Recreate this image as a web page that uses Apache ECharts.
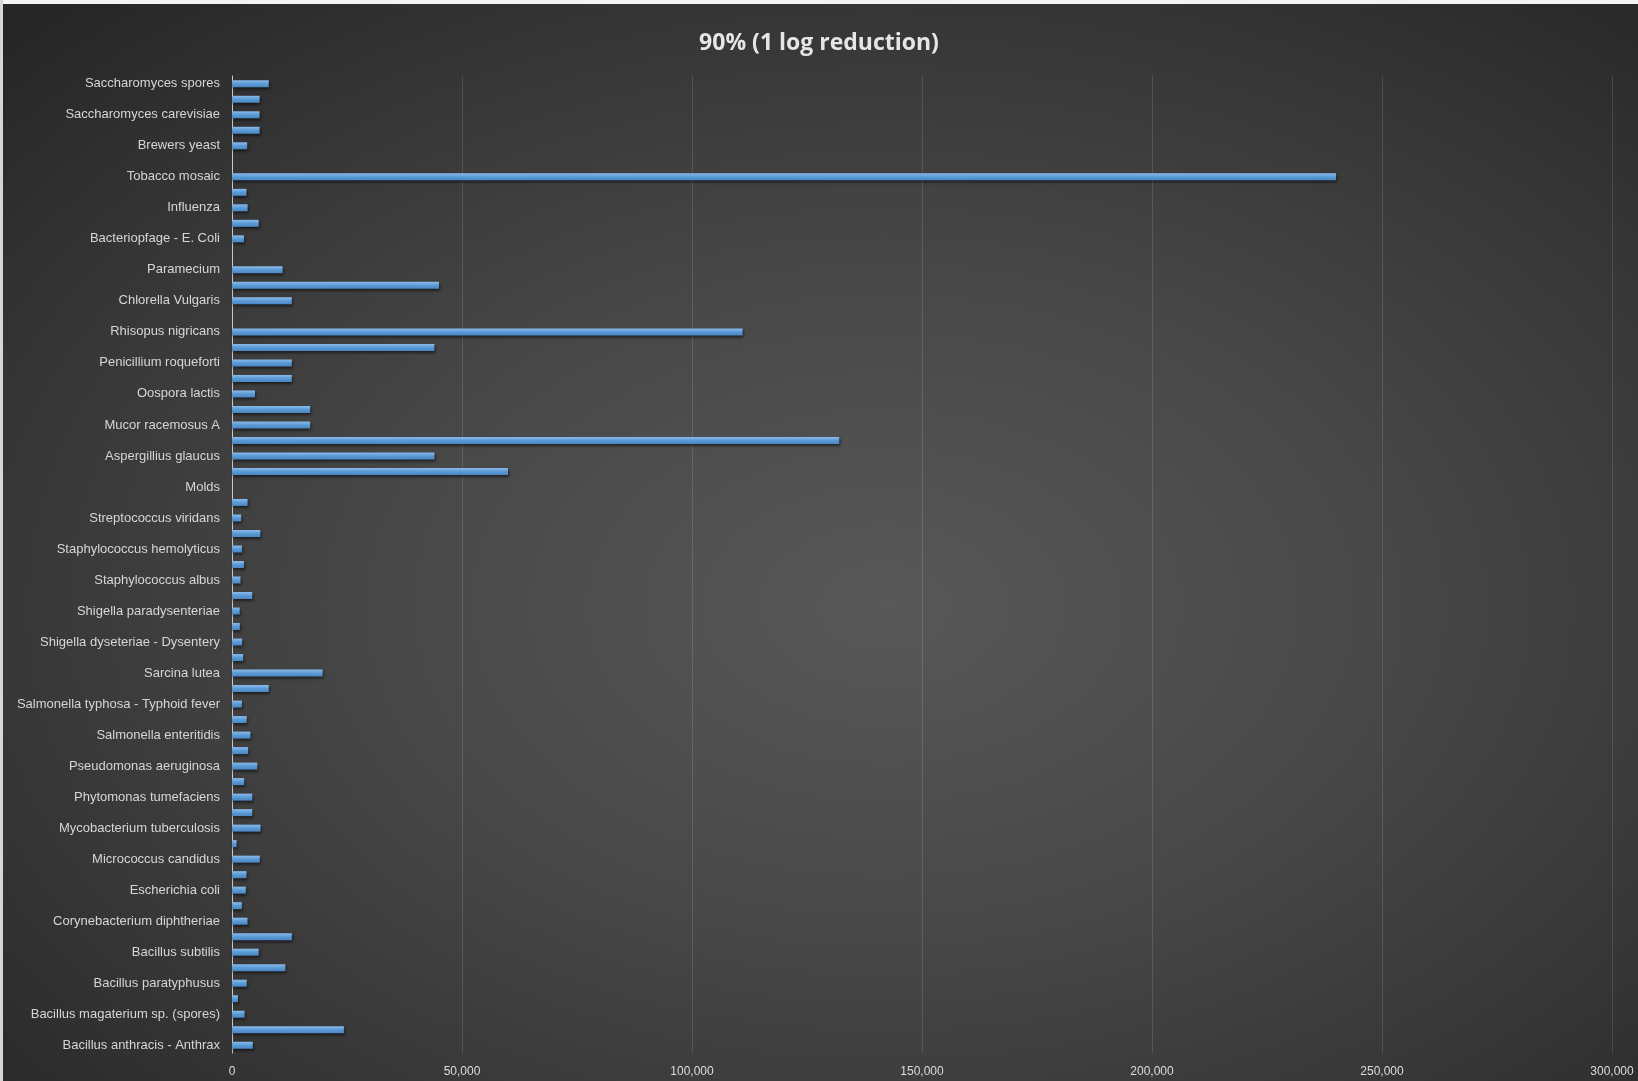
<!DOCTYPE html>
<html>
<head>
<meta charset="utf-8">
<script src="https://cdn.jsdelivr.net/npm/echarts@6/dist/echarts.min.js"></script>
<style>
html, body { margin: 0; padding: 0; width: 1638px; height: 1081px; overflow: hidden; }
body { background: radial-gradient(ellipse 75% 75% at 54% 56%, #585858 0%, #484848 40%, #353535 75%, #262626 100%); }
#chart { width: 1638px; height: 1081px; }
</style>
</head>
<body>
<div id="chart"></div>
<script>
const titleText = '90% (1 log reduction)';

const categories = [
  'Bacillus anthracis - Anthrax',
  'Bacillus anthracis spores',
  'Bacillus magaterium sp. (spores)',
  'Bacillus magaterium sp. (veg.)',
  'Bacillus paratyphusus',
  'Bacillus subtilis spores',
  'Bacillus subtilis',
  'Clostridium tetani',
  'Corynebacterium diphtheriae',
  'Ebertelia typhosa',
  'Escherichia coli',
  'Leptospiracanicola - Infectious Jaundice',
  'Micrococcus candidus',
  'Microccocus sphaeroides',
  'Mycobacterium tuberculosis',
  'Neisseria catarrhalis',
  'Phytomonas tumefaciens',
  'Proteus vulgaris',
  'Pseudomonas aeruginosa',
  'Pseudomonas fluorescens',
  'Salmonella enteritidis',
  'Salmonella paratyphi - Enteric fever',
  'Salmonella typhosa - Typhoid fever',
  'Salmonella typhimurium',
  'Sarcina lutea',
  'Serratia marcescens',
  'Shigella dyseteriae - Dysentery',
  'Shigella flexneri - Dysentery',
  'Shigella paradysenteriae',
  'Spirillum rubrum',
  'Staphylococcus albus',
  'Staphylococcus aureus',
  'Staphylococcus hemolyticus',
  'Staphylococcus lactis',
  'Streptococcus viridans',
  'Vibrio comma - Cholera',
  'Molds',
  'Aspergillius flavus',
  'Aspergillius glaucus',
  'Aspergillius niger',
  'Mucor racemosus A',
  'Mucor racemosus B',
  'Oospora lactis',
  'Penicillium expansum',
  'Penicillium roqueforti',
  'Penicillium digitatum',
  'Rhisopus nigricans',
  'Protozoa',
  'Chlorella Vulgaris',
  'Nematode Eggs',
  'Paramecium',
  'Virus',
  'Bacteriopfage - E. Coli',
  'Infectious Hepatitis',
  'Influenza',
  'Poliovirus - Poliomyelitis',
  'Tobacco mosaic',
  'Yeasts',
  'Brewers yeast',
  'Common yeast cake',
  'Saccharomyces carevisiae',
  'Saccharomyces ellipsoideus',
  'Saccharomyces spores'
];

const values = [
  4520, 24320, 2730, 1300, 3200, 11600, 5800, 13000, 3370, 2140,
  3000, 3150, 6050, 1000, 6200, 4400, 4400, 2640, 5500, 3500,
  4000, 3200, 2150, 8000, 19700, 2420, 2200, 1700, 1680, 4400,
  1840, 2600, 2160, 6150, 2000, 3375, null, 60000, 44000, 132000,
  17000, 17000, 5000, 13000, 13000, 44000, 111000, null, 13000, 45000,
  11000, null, 2600, 5800, 3400, 3150, 240000, null, 3300, 6000,
  6000, 6000, 8000
];

const xTicks = [0, 50000, 100000, 150000, 200000, 250000, 300000];

const chart = echarts.init(document.getElementById('chart'), null, { renderer: 'canvas' });

chart.setOption({
  backgroundColor: 'transparent',
  animation: false,
  title: {
    text: titleText,
    left: 'center',
    top: 27,
    textStyle: {
      color: '#e6e6e6',
      fontFamily: 'Open Sans',
      fontWeight: 'bold',
      fontSize: 23
    }
  },
  graphic: [
    { type: 'rect', left: 0, top: 0, shape: { width: 1638, height: 4 }, style: { fill: '#f4f4f4' }, z: 100 },
    { type: 'rect', left: 0, top: 0, shape: { width: 3, height: 1081 }, style: { fill: '#d6d6d6' }, z: 100 }
  ],
  grid: { left: 232, right: 26, top: 76, bottom: 28, containLabel: false },
  xAxis: {
    type: 'value',
    min: xTicks[0],
    max: xTicks[xTicks.length - 1],
    interval: xTicks[1] - xTicks[0],
    axisLine: { show: false },
    axisTick: { show: false },
    splitLine: { show: true, lineStyle: { color: 'rgba(255,255,255,0.13)', width: 1 } },
    axisLabel: {
      color: '#dcdcdc',
      fontFamily: 'Liberation Sans, sans-serif',
      fontSize: 12,
      margin: 13,
      formatter: function (v) { return v.toLocaleString('en-US'); }
    }
  },
  yAxis: {
    type: 'category',
    data: categories,
    axisLine: { show: true, lineStyle: { color: '#c8c8c8', width: 1 } },
    axisTick: { show: false },
    splitLine: { show: false },
    axisLabel: {
      interval: 1,
      color: '#d6d6d6',
      fontFamily: 'Liberation Sans, sans-serif',
      fontSize: 13,
      margin: 12
    }
  },
  series: [{
    type: 'bar',
    data: values,
    barWidth: 7,
    itemStyle: {
      color: new echarts.graphic.LinearGradient(0, 0, 0, 1, [
        { offset: 0, color: '#8cbcec' },
        { offset: 0.5, color: '#5b9bd5' },
        { offset: 1, color: '#4a86c2' }
      ]),
      shadowColor: 'rgba(0,0,0,0.55)',
      shadowBlur: 3,
      shadowOffsetX: 1,
      shadowOffsetY: 2
    }
  }]
});
</script>
</body>
</html>
